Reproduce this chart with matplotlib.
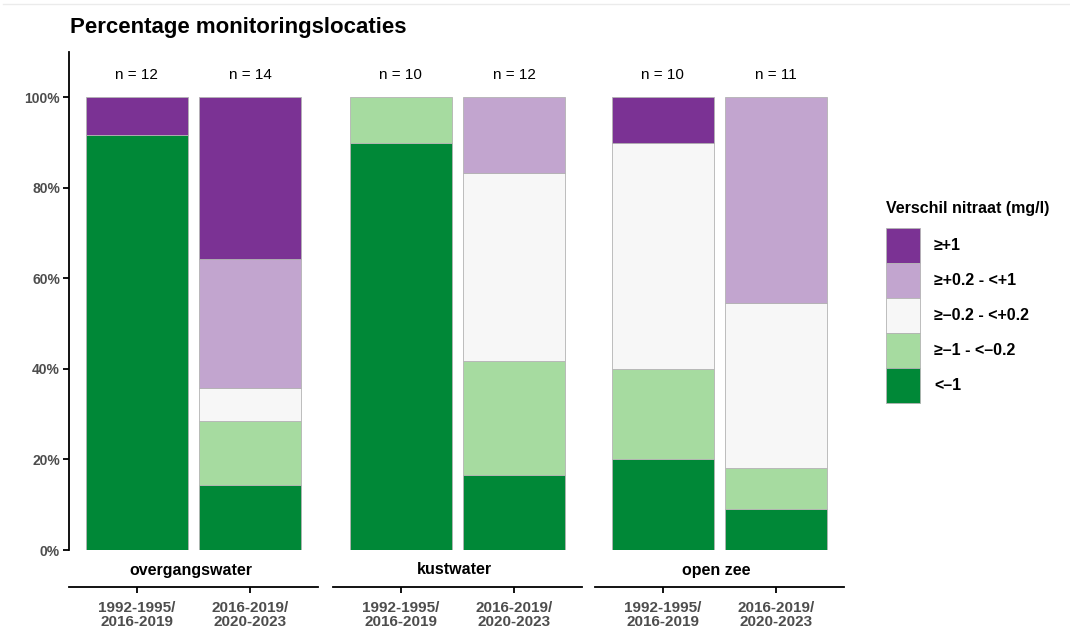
import numpy as np
import matplotlib
matplotlib.use("Agg")
import matplotlib.pyplot as plt
from matplotlib.patches import Patch
from matplotlib.lines import Line2D
from matplotlib.ticker import PercentFormatter

plt.rcParams['font.family'] = ['Liberation Sans', 'DejaVu Sans']

waters = ["overgangswater", "kustwater", "open zee"]
periods = ["1992-1995/\n2016-2019", "2016-2019/\n2020-2023"]
classes = ["<\u20131", "\u2265\u20131 - <\u20130.2", "\u2265\u20130.2 - <+0.2", "\u2265+0.2 - <+1", "\u2265+1"]
colors = ["#008837", "#A6DBA0", "#F7F7F7", "#C2A5CF", "#7B3294"]

# counts per class, bars ordered water by water, period by period
n_lt_m1 = [11, 2, 9, 2, 2, 1]
n_m1_m02 = [0, 2, 1, 3, 2, 1]
n_m02_p02 = [0, 1, 0, 5, 5, 4]
n_p02_p1 = [0, 4, 0, 2, 0, 5]
n_ge_p1 = [1, 5, 0, 0, 1, 0]

counts = np.array([n_lt_m1, n_m1_m02, n_m02_p02, n_p02_p1, n_ge_p1], dtype=float)
totals = counts.sum(axis=0)
shares = counts / totals

W, H = 1070, 640
fig = plt.figure(figsize=(W / 100, H / 100), dpi=100)

# thin grey line along the top
fig.add_artist(Line2D([3 / W, 1], [1 - 4 / H] * 2, color="#EBEBEB", lw=1))

fig.text(70 / W, 1 - 27 / H, "Percentage monitoringslocaties", fontsize=16,
         fontweight="bold", ha="left", va="center")

tick_grey = "#4D4D4D"
lefts = [69, 333, 595]
x = np.arange(len(periods))

for i, water in enumerate(waters):
    ax = fig.add_axes([lefts[i] / W, 1 - 550 / H, 249 / W, 498 / H])
    for s in ["top", "right"]:
        ax.spines[s].set_visible(False)
    # x axis sits below the strip label (this resets the ticks, so do it first)
    ax.spines["bottom"].set_position(("outward", 26.6))
    ax.spines["bottom"].set_linewidth(1.3)

    sl = slice(2 * i, 2 * i + 2)
    bottom = np.zeros(len(periods))
    for k in range(len(classes)):
        vals = shares[k, sl]
        bars = ax.bar(x, vals, bottom=bottom, width=0.9, color=colors[k],
                      edgecolor="#B3B3B3", linewidth=0.6)
        for b, v in zip(bars, vals):
            if v == 0:
                b.set_visible(False)
        bottom += vals
    for j, n in enumerate(totals[sl]):
        ax.text(x[j], 1.05, f"n = {int(n)}", ha="center", va="center", fontsize=11)

    ax.set_xlim(-0.6, 1.6)
    ax.set_ylim(0, 1.10)
    ax.set_xticks(x)
    ax.set_xticklabels(periods)
    ax.tick_params(axis="x", length=4.5, width=1.3, pad=5.5, color="black")
    for lab in ax.get_xticklabels():
        lab.set_fontsize(11)
        lab.set_fontweight("bold")
        lab.set_color(tick_grey)
        lab.set_linespacing(1.05)

    ax.annotate(water, xy=(0.5, 0), xycoords="axes fraction", xytext=(-2, -14.4),
                textcoords="offset points", ha="center", va="center",
                fontsize=11.5, fontweight="bold")

    if i == 0:
        ax.set_yticks([0, 0.2, 0.4, 0.6, 0.8, 1.0])
        ax.yaxis.set_major_formatter(PercentFormatter(1.0, decimals=0))
        ax.tick_params(axis="y", length=4.5, width=1.3, pad=2, labelsize=10,
                       labelcolor=tick_grey)
        for lab in ax.get_yticklabels():
            lab.set_fontweight("bold")
        ax.spines["left"].set_linewidth(1.3)
    else:
        ax.spines["left"].set_visible(False)
        ax.set_yticks([])
    ax.patch.set_alpha(0)

# legend
fig.text(886 / W, 1 - 208 / H, "Verschil nitraat (mg/l)", fontsize=11.5,
         fontweight="bold", ha="left", va="center")
handles = [Patch(facecolor=colors[k], edgecolor="#B3B3B3", linewidth=0.6)
           for k in range(len(classes))][::-1]
fs = 11.5
fs_px = fs / 72 * 100
row_px = 35
hh = (row_px / fs_px - 0.245) / 0.65
leg = fig.legend(handles, classes[::-1], loc="upper left",
                 bbox_to_anchor=(886 / W, 1 - 228 / H), frameon=False,
                 borderpad=0, borderaxespad=0, labelspacing=0,
                 handlelength=34 / fs_px, handleheight=hh,
                 handletextpad=14 / fs_px, prop={"size": fs, "weight": "bold"})

fig.savefig("out.png", dpi=100)
